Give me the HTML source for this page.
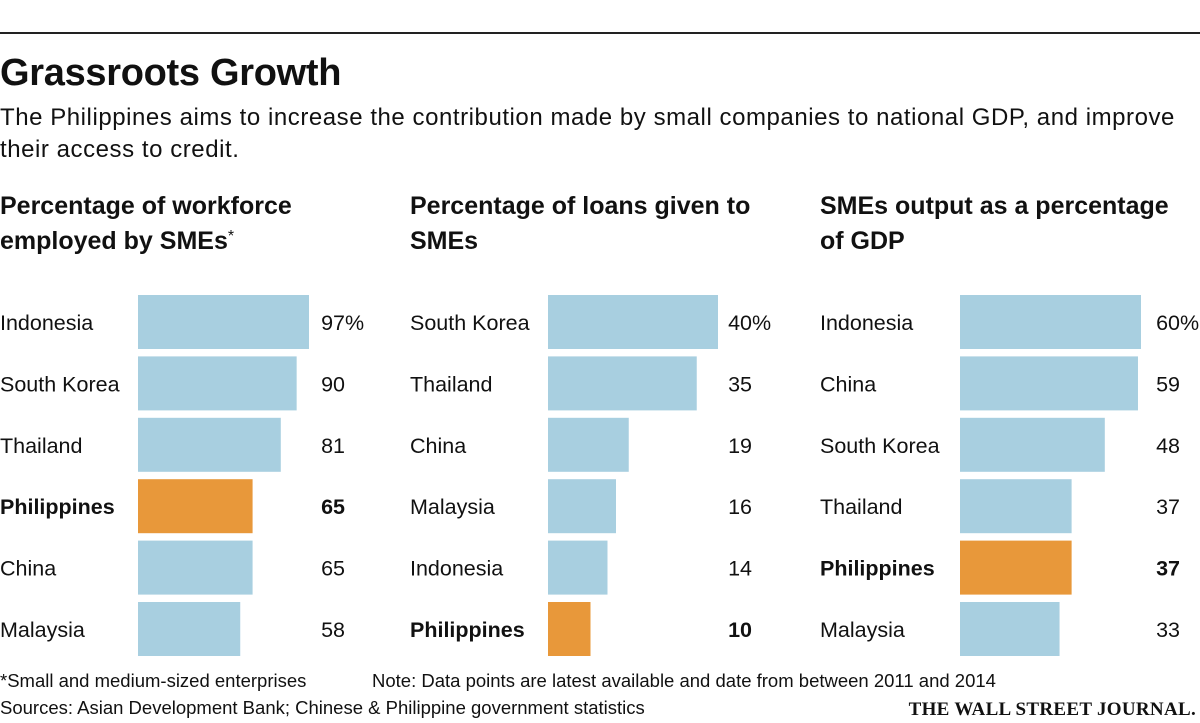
<!DOCTYPE html>
<html><head><meta charset="utf-8"><style>
body{margin:0;width:1200px;height:723px;background:#fff;font-family:"Liberation Sans",sans-serif;color:#111;overflow:hidden;position:relative}
.t{position:absolute;white-space:nowrap}
</style></head><body>
<div style="position:absolute;left:0;top:32px;width:1200px;height:2px;background:#222"></div>
<div class="t" style="left:0;top:52px;font-size:38px;font-weight:bold;letter-spacing:-0.3px">Grassroots Growth</div>
<div class="t" style="left:0;top:102px;font-size:24px;letter-spacing:0.55px;line-height:32px;white-space:normal;width:1200px">The Philippines aims to increase the contribution made by small companies to national GDP, and improve their access to credit.</div>
<svg id="chart" width="1200" height="723" style="position:absolute;left:0;top:0" font-family="Liberation Sans, sans-serif"></svg>
<div class="t" style="left:0;top:670px;font-size:18.5px">*Small and medium-sized enterprises</div>
<div class="t" style="left:372px;top:670px;font-size:18.5px">Note: Data points are latest available and date from between 2011 and 2014</div>
<div class="t" style="left:0;top:697px;font-size:18.5px">Sources: Asian Development Bank; Chinese &amp; Philippine government statistics</div>
<div class="t" style="right:4px;top:699px;font-size:19px;font-family:'Liberation Serif',serif;font-weight:bold;letter-spacing:0.3px">THE WALL STREET JOURNAL.</div>
<script>
const titles1=["Percentage of workforce","employed by SMEs"];
const cats1=["Indonesia","South Korea","Thailand","Philippines","China","Malaysia"];
const vals1=[97,90,81,65,65,58];
const labels1=["97","90","81","65","65","58"];
const titles2=["Percentage of loans given to","SMEs"];
const cats2=["South Korea","Thailand","China","Malaysia","Indonesia","Philippines"];
const vals2=[40,35,19,16,14,10];
const labels2=["40","35","19","16","14","10"];
const titles3=["SMEs output as a percentage","of GDP"];
const cats3=["Indonesia","China","South Korea","Thailand","Philippines","Malaysia"];
const vals3=[60,59,48,37,37,33];
const labels3=["60","59","48","37","37","33"];
const svg=document.getElementById('chart');
const NS="http://www.w3.org/2000/svg";
function mk(tag,attrs,txt){const e=document.createElementNS(NS,tag);for(const k in attrs)e.setAttribute(k,attrs[k]);if(txt!==undefined)e.textContent=txt;svg.appendChild(e);return e;}
const panels=[
 {t:titles1,c:cats1,v:vals1,l:labels1,x0:0,bx:138,scale:171/97,lx:345,star:true},
 {t:titles2,c:cats2,v:vals2,l:labels2,x0:410,bx:548,scale:170/40,lx:752},
 {t:titles3,c:cats3,v:vals3,l:labels3,x0:820,bx:960,scale:181/60,lx:1180}
];
function yRow(i){return 295+i*61.4;}
panels.forEach((p,pi)=>{
 p.t.forEach((line,li)=>{
  const e=mk('text',{x:p.x0,y:214+li*35,'font-size':25,'font-weight':'bold',fill:'#111'},line);
  
  
  if(p.star&&li===1){const s=document.createElementNS(NS,'tspan');s.setAttribute('font-size','16');s.setAttribute('font-weight','normal');s.setAttribute('dy','-8');s.textContent='*';e.appendChild(s);}
 });
 p.c.forEach((c,i)=>{
  const y=yRow(i);const hi=c==="Philippines";
  const r=mk('rect',{x:p.bx,y:y,width:p.v[i]*p.scale,height:54,fill:hi?'#e8983a':'#a8cfe0'});
  
  
  const t=mk('text',{x:p.x0,y:y+35,'font-size':21.5,'font-weight':hi?'bold':'normal',fill:'#111'},c);
  
  
  const v=mk('text',{x:p.lx,y:y+35,'font-size':21.5,'text-anchor':'end','font-weight':hi?'bold':'normal',fill:'#111'},p.l[i]);
  
  
  if(i===0){
   const pc=mk('text',{x:p.lx,y:y+35,'font-size':21.5,fill:'#111'},'%');
   
   
  }
 });
});
</script>
</body></html>
